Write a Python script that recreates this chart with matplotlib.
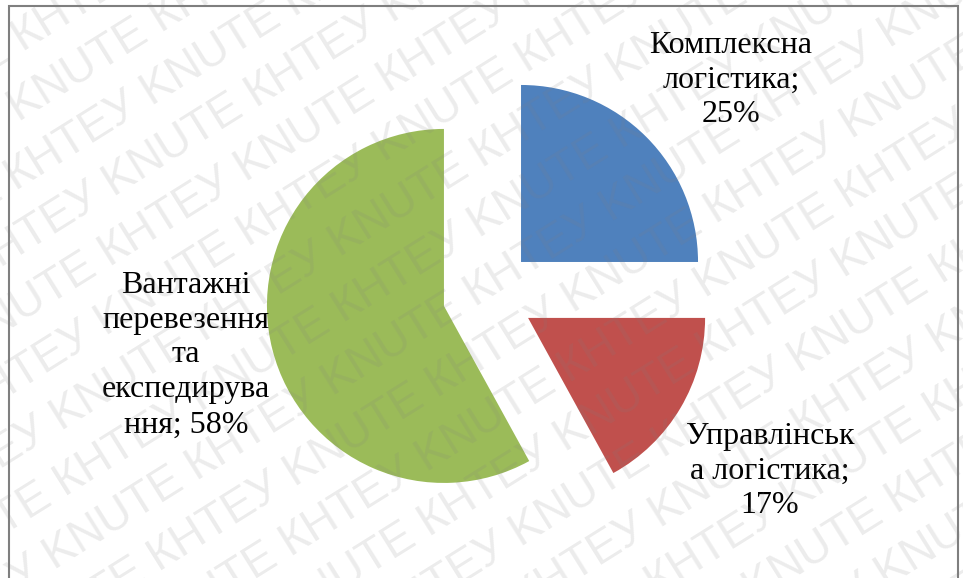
import numpy as np
import matplotlib
matplotlib.use("Agg")
import matplotlib.pyplot as plt
from matplotlib.patches import Rectangle

categories = ["Комплексна\nлогістика;\n25%", "Управлінськ\nа логістика;\n17%",
              "Вантажні\nперевезення\nта\nекспедирува\nння; 58%"]
values = [25, 17, 58]
colors = ["#4F81BD", "#C0504D", "#9BBB59"]

W, H = 963, 578
fig = plt.figure(figsize=(W / 100, H / 100), dpi=100)
ax = fig.add_axes([0, 0, 1, 1])

radius = 177
ax.pie(values, colors=colors, startangle=90, counterclock=False,
       explode=[46, 46, 46], radius=radius, center=(488.5, H - 294.5),
       wedgeprops=dict(linewidth=0), frame=True)
ax.set_xlim(0, W)
ax.set_ylim(0, H)
ax.set_aspect("equal")
ax.axis("off")

label_pos = [(731, H - 80), (770, H - 471), (186, H - 355)]
for txt, (x, y) in zip(categories, label_pos):
    ax.text(x, y, txt, ha="center", va="center", multialignment="center",
            fontsize=23, family="Liberation Serif", color="black",
            linespacing=1.27, zorder=5)

# watermark
deg = 32
ang = np.deg2rad(deg)
d = np.array([np.cos(ang), np.sin(ang)])
n = np.array([-np.sin(ang), np.cos(ang)])
spacing = 57
for k in range(-20, 20):
    row = ("КНТЕУ KNUTE " if k % 2 == 0 else "KNUTE КНТЕУ ") * 10
    p = np.array([W / 2, H / 2]) + n * k * spacing - d * 1000 + d * (k % 3) * 40
    ax.text(p[0], p[1], row, rotation=deg, rotation_mode="anchor",
            ha="left", va="center", fontsize=33, family="Liberation Sans",
            color="#808080", alpha=0.15, zorder=10, clip_on=True)

fig.add_artist(Rectangle((9 / W, -0.02), (958 - 9) / W, (H - 6) / H + 0.02,
                         transform=fig.transFigure, fill=False,
                         edgecolor="#7f7f7f", linewidth=1.5, zorder=20))

fig.savefig("out.png", dpi=100)
